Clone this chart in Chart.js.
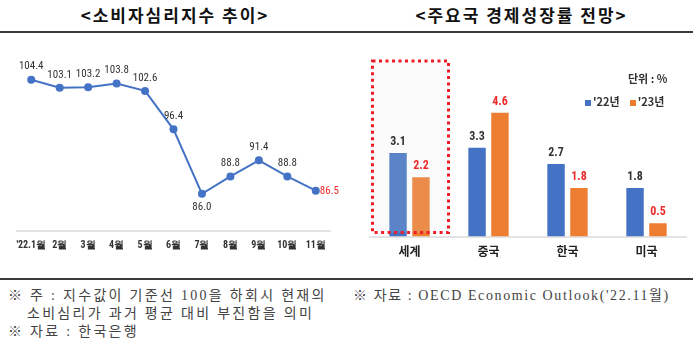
<!DOCTYPE html>
<html>
<head>
<meta charset="utf-8">
<script src="https://cdn.jsdelivr.net/npm/chart.js@4.4.0/dist/chart.umd.min.js"></script>
<style>
  body { margin: 0; background: #fff; width: 699px; height: 344px; position: relative; overflow: hidden; font-family: "Noto Sans CJK KR", sans-serif; }
  .title { position: absolute; top: 2px; font-size: 17px; letter-spacing: 2px; font-weight: bold; color: #111; text-align: center; }
  .rule { position: absolute; height: 2px; background: #3a3a3a; }
  .note { position: absolute; font-family: "Liberation Serif", "Noto Sans CJK KR", serif; font-size: 14px; letter-spacing: 2.3px; color: #444; line-height: 18px; white-space: nowrap; }
  .box { position: absolute; }
  .legend { position: absolute; font-size: 11px; font-weight: bold; color: #333; white-space: nowrap; }
  .legend i { display: inline-block; width: 6px; height: 6px; margin-right: 2px; vertical-align: middle; }
</style>
</head>
<body>
<div class="title" style="left:0;width:350px">&lt;소비자심리지수 추이&gt;</div>
<div class="title" style="left:350px;width:343px">&lt;주요국 경제성장률 전망&gt;</div>
<div class="rule" style="left:0;top:31px;width:693px"></div>
<div class="rule" style="left:0;top:278px;width:693px"></div>

<div class="box" style="left:0;top:0;width:350px;height:270px"><canvas id="csiChart" width="350" height="270"></canvas></div>
<div class="box" style="left:350px;top:0;width:349px;height:270px"><canvas id="gdpChart" width="349" height="270"></canvas></div>

<div class="legend" style="left:628px;top:70px">단위 : %</div>
<div class="legend" style="left:585px;top:93px"><i style="background:#4472c4"></i>'22년&nbsp;&nbsp;&nbsp;&nbsp;<i style="background:#ed7d31"></i>'23년</div>

<div class="note" style="left:8px;top:287px">※ 주 : 지수값이 기준선 100을 하회시 현재의</div>
<div class="note" style="left:27px;top:305px">소비심리가 과거 평균 대비 부진함을 의미</div>
<div class="note" style="left:8px;top:323px">※ 자료 : 한국은행</div>
<div class="note" style="left:353px;top:287px;letter-spacing:1.6px">※ 자료 : OECD Economic Outlook('22.11월)</div>

<script>
  // 소비자심리지수
  const months = ["'22.1월", "2월", "3월", "4월", "5월", "6월", "7월", "8월", "9월", "10월", "11월"];
  const csiValues = [104.4, 103.1, 103.2, 103.8, 102.6, 96.4, 86.0, 88.8, 91.4, 88.8, 86.5];

  // 경제성장률 전망
  const countries = ['세계', '중국', '한국', '미국'];
  const growth22 = [3.1, 3.3, 2.7, 1.8];
  const growth23 = [2.2, 4.6, 1.8, 0.5];

  const narrow = '"Liberation Sans Narrow", "Roboto Condensed", "Liberation Sans", sans-serif';

  const lineLabels = {
    id: 'lineLabels',
    afterDatasetsDraw(chart) {
      const ctx = chart.ctx;
      const meta = chart.getDatasetMeta(0);
      ctx.save();
      ctx.font = '11px ' + narrow;
      ctx.textBaseline = 'middle';
      meta.data.forEach(function(pt, i) {
        const txt = csiValues[i].toFixed(1);
        if (i === csiValues.length - 1) {
          ctx.fillStyle = '#ee2b2b';
          ctx.textAlign = 'left';
          ctx.fillText(txt, pt.x + 4, pt.y + 1);
        } else if (i === 6) {
          ctx.fillStyle = '#333';
          ctx.textAlign = 'center';
          ctx.fillText(txt, pt.x, pt.y + 13);
        } else {
          ctx.fillStyle = '#333';
          ctx.textAlign = 'center';
          ctx.fillText(txt, pt.x, pt.y - 13);
        }
      });
      ctx.restore();
    }
  };

  new Chart(document.getElementById('csiChart'), {
    type: 'line',
    data: {
      labels: months,
      datasets: [{
        data: csiValues,
        borderColor: '#4472c4',
        backgroundColor: '#4472c4',
        borderWidth: 2,
        pointRadius: 4,
        pointBorderWidth: 0,
        tension: 0
      }]
    },
    options: {
      responsive: false,
      animation: false,
      layout: { padding: { left: 17, right: 20, top: 45, bottom: 11 } },
      plugins: { legend: { display: false }, tooltip: { enabled: false } },
      scales: {
        x: {
          offset: true,
          grid: { display: false, drawTicks: false },
          border: { color: '#e3e3e3', width: 2 },
          ticks: { color: '#333', padding: 8, minRotation: 0, maxRotation: 0, autoSkip: false,
                   font: { size: 10, family: narrow, weight: 'bold' } }
        },
        y: { display: false, min: 80, max: 110 }
      }
    },
    plugins: [lineLabels]
  });

  const worldBox = {
    id: 'worldBox',
    afterDatasetsDraw(chart) {
      const ctx = chart.ctx;
      const x = chart.scales.x;
      const cx = x.getPixelForValue(0);
      const left = cx - 37, right = cx + 39;
      const top = chart.chartArea.top - 14, bottom = chart.chartArea.bottom - 4;
      ctx.save();
      ctx.fillStyle = 'rgba(225,225,225,0.15)';
      ctx.fillRect(left, top, right - left, bottom - top);
      ctx.strokeStyle = '#ee1c25';
      ctx.lineWidth = 3;
      ctx.setLineDash([3, 3.5]);
      ctx.strokeRect(left, top, right - left, bottom - top);
      ctx.restore();
    }
  };

  const barLabels = {
    id: 'barLabels',
    afterDatasetsDraw(chart) {
      const ctx = chart.ctx;
      ctx.save();
      ctx.font = 'bold 12px ' + narrow;
      ctx.textAlign = 'center';
      ctx.textBaseline = 'middle';
      chart.data.datasets.forEach(function(ds, d) {
        chart.getDatasetMeta(d).data.forEach(function(bar, i) {
          ctx.fillStyle = d === 0 ? '#333' : '#ee2b2b';
          ctx.fillText(ds.data[i].toFixed(1), bar.x, bar.y - 11);
        });
      });
      ctx.restore();
    }
  };

  new Chart(document.getElementById('gdpChart'), {
    type: 'bar',
    data: {
      labels: countries,
      datasets: [
        { label: "'22년", data: growth22, backgroundColor: '#4472c4', categoryPercentage: 0.58, barPercentage: 0.76 },
        { label: "'23년", data: growth23, backgroundColor: '#ed7d31', categoryPercentage: 0.58, barPercentage: 0.76 }
      ]
    },
    options: {
      responsive: false,
      animation: false,
      layout: { padding: { left: 20, right: 13, top: 75, bottom: 3 } },
      plugins: { legend: { display: false }, tooltip: { enabled: false } },
      scales: {
        x: {
          grid: { display: false, drawTicks: false },
          border: { color: '#e3e3e3', width: 2 },
          ticks: { color: '#222', padding: 8, font: { size: 12, family: '"Noto Sans CJK KR", sans-serif', weight: 'bold' } }
        },
        y: { display: false, min: 0, max: 6 }
      }
    },
    plugins: [worldBox, barLabels]
  });
</script>
</body>
</html>
